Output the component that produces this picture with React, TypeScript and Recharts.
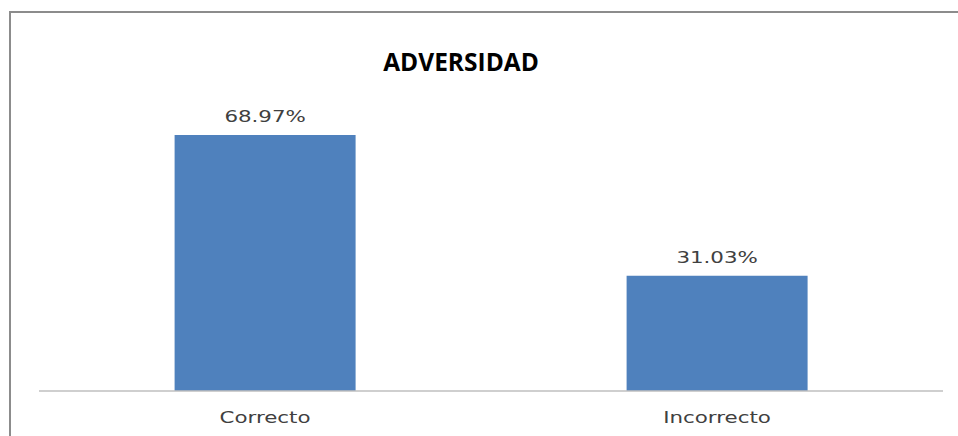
import React from 'react';
import { BarChart, Bar, XAxis, YAxis, LabelList } from 'recharts';

const categories = ['Correcto', 'Incorrecto'];
const values = [68.97, 31.03];
const valueLabels = ['68.97%', '31.03%'];
const title = 'ADVERSIDAD';

const data = categories.map((c, i) => ({ name: c, value: values[i], label: valueLabels[i] }));

const textFont = '"DejaVu Sans", Verdana, sans-serif';
const STRETCH = 1.38;

function StretchTick(props: any) {
  const { x, y, payload } = props;
  return (
    <text
      transform={`translate(${x},${y}) scale(${STRETCH},1)`}
      textAnchor="middle"
      fill="#404040"
      fontSize={15.5}
      fontFamily={textFont}
    >
      {payload.value}
    </text>
  );
}

function StretchLabel(props: any) {
  const { x, y, width, value } = props;
  const cx = Number(x) + Number(width) / 2;
  return (
    <text
      transform={`translate(${cx},${Number(y) - 13}) scale(${STRETCH},1)`}
      textAnchor="middle"
      fill="#404040"
      fontSize={15.5}
      fontFamily={textFont}
    >
      {value}
    </text>
  );
}

export default function App() {
  return (
    <div style={{ position: 'absolute', left: 0, top: 0, width: 958, height: 436, background: '#fff', overflow: 'hidden' }}>
      <div
        style={{
          position: 'absolute',
          left: 9,
          top: 11,
          width: 960,
          height: 440,
          borderTop: '2px solid #8c8c8c',
          borderLeft: '2px solid #8c8c8c',
        }}
      />
      <BarChart
        width={958}
        height={436}
        data={data}
        margin={{ top: 94, right: 15, bottom: 0, left: 39 }}
        barCategoryGap="30%"
      >
        <YAxis hide domain={[0, 80]} />
        <XAxis
          dataKey="name"
          height={45}
          tickLine={false}
          tickSize={0}
          axisLine={{ stroke: '#bfbfbf', strokeWidth: 1.5 }}
          tick={(p: any) => <StretchTick {...p} y={423} />}
        />
        <Bar dataKey="value" fill="#4F81BD" isAnimationActive={false}>
          <LabelList dataKey="label" content={(p: any) => <StretchLabel {...p} />} />
        </Bar>
      </BarChart>
      <div
        style={{
          position: 'absolute',
          left: 261,
          width: 400,
          top: 45,
          textAlign: 'center',
          fontFamily: '"Open Sans", sans-serif',
          fontWeight: 700,
          fontSize: 24.5,
          color: '#000',
          lineHeight: '34px',
        }}
      >
        {title}
      </div>
    </div>
  );
}
